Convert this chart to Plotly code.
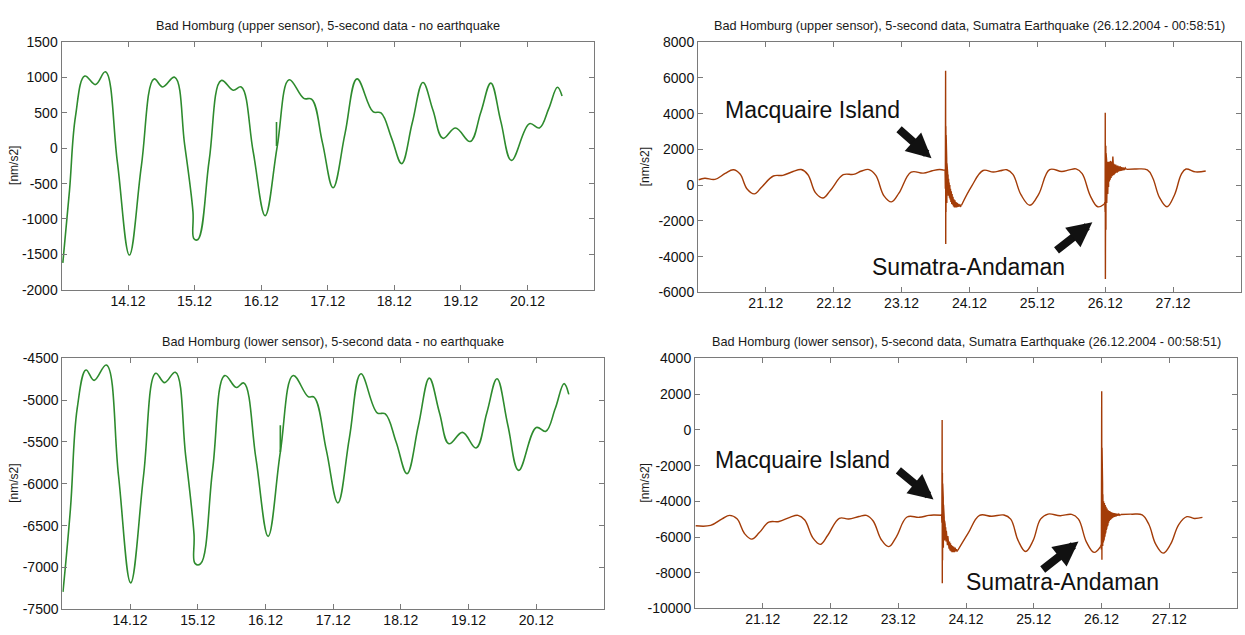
import plotly.graph_objects as go

GREEN = '#2e8b2e'
BROWN = '#a33c08'
FONT = 'Liberation Sans, Arial, sans-serif'

# ---------------- Top-left: upper sensor, no earthquake ----------------
tl_day = [13.02, 13.12, 13.21, 13.35, 13.51, 13.66, 13.84, 14.02, 14.20, 14.39, 14.52, 14.70,
          14.85, 14.975, 14.99, 15.05, 15.22, 15.40, 15.58, 15.70, 15.88, 16.06, 16.24, 16.42,
          16.64, 16.76, 16.92, 17.08, 17.26, 17.44, 17.68, 17.80, 17.96, 18.11, 18.27, 18.43,
          18.58, 18.73, 18.92, 19.14, 19.30, 19.45, 19.60, 19.76, 20.03, 20.18, 20.32, 20.45, 20.52]
tl_val = [-1620, -600, 450, 1020, 900, 1080, -200, -1510, -250, 980, 866, 1004,
          50, -900, -1280, -1290, -160, 958, 820, 866, -50, -953, 20, 967,
          705, 692, 80, -558, 210, 981, 517, 499, 140, -217, 360, 930,
          540, 140, 287, 95, 510, 921, 380, -172, 347, 287, 560, 862, 738]
tl_glitch_day = [16.23, 16.23]
tl_glitch_val = [30, 370]

# ---------------- Bottom-left: lower sensor, no earthquake ----------------
bl_day = [13.01, 13.12, 13.22, 13.35, 13.47, 13.65, 13.83, 14.01, 14.20, 14.38, 14.51, 14.67,
          14.82, 14.945, 14.96, 15.04, 15.22, 15.40, 15.57, 15.68, 15.86, 16.04, 16.22, 16.41,
          16.63, 16.72, 16.90, 17.07, 17.24, 17.41, 17.65, 17.77, 17.93, 18.09, 18.26, 18.42,
          18.57, 18.71, 18.91, 19.11, 19.27, 19.42, 19.58, 19.74, 20.00, 20.14, 20.28, 20.41, 20.48]
bl_val = [-7290, -6300, -5100, -4640, -4764, -4581, -5900, -7182, -5900, -4679, -4791, -4667,
          -5650, -6600, -6950, -6957, -5830, -4706, -4849, -4795, -5700, -6627, -5620, -4706,
          -4958, -4966, -5600, -6227, -5450, -4686, -5152, -5164, -5500, -5878, -5300, -4737,
          -5150, -5521, -5385, -5571, -5150, -4744, -5300, -5839, -5327, -5373, -5100, -4803, -4931]
bl_glitch_day = [16.22, 16.22]
bl_glitch_val = [-5620, -5300]

# ---------------- Top-right: upper sensor, Sumatra earthquake ----------------
tr_pre_day = [20.01, 20.10, 20.25, 20.40, 20.52, 20.62, 20.72, 20.83, 20.94, 21.11, 21.25, 21.40,
              21.52, 21.62, 21.73, 21.84, 21.95, 22.14, 22.29, 22.41, 22.52, 22.62, 22.74, 22.85,
              22.96, 23.14, 23.32, 23.45, 23.56, 23.636]
tr_pre_val = [300, 380, 320, 650, 860, 620, -200, -490, -100, 509, 547, 760,
              870, 580, -420, -723, -300, 580, 600, 790, 870, 540, -600, -940,
              -450, 725, 670, 800, 870, 820]
tr_q1_day = [23.636, 23.640, 23.644, 23.646, 23.648, 23.650, 23.652, 23.654, 23.656, 23.658,
             23.660, 23.662, 23.664, 23.666, 23.668, 23.670, 23.672, 23.675, 23.678, 23.681,
             23.684, 23.688, 23.692, 23.696, 23.700, 23.705, 23.710, 23.715, 23.720, 23.726,
             23.732, 23.738, 23.744, 23.750, 23.757, 23.764, 23.771, 23.778, 23.786, 23.794,
             23.802, 23.811, 23.820, 23.830, 23.840, 23.850, 23.860, 23.870, 23.880]
tr_q1_val = [820, 850, -200, 2500, 6400, -3300, 3300, -1500, 2800, -1200,
             2000, -800, 1500, -1000, 1200, -600, 900, -500, 700, -400,
             600, -600, 350, -500, 150, -700, 0, -800, -200, -950,
             -350, -1050, -500, -1100, -650, -1200, -800, -1250, -850, -1250,
             -950, -1250, -1000, -1220, -1050, -1200, -1080, -1180, -1140]
tr_mid_day = [23.88, 24.03, 24.20, 24.35, 24.45, 24.55, 24.64, 24.76, 24.89, 25.02, 25.18,
              25.36, 25.47, 25.57, 25.66, 25.78, 25.89, 25.988]
tr_mid_val = [-1140, -70, 818, 730, 800, 860, 600, -550, -1130, -500, 870,
              760, 850, 905, 640, -600, -1212, -1060]
tr_q2_day = [25.988, 25.994, 25.998, 26.000, 26.002, 26.004, 26.006, 26.008, 26.010, 26.012,
             26.014, 26.016, 26.018, 26.020, 26.022, 26.024, 26.026, 26.028, 26.031, 26.034,
             26.037, 26.040, 26.043, 26.046, 26.049, 26.052, 26.055, 26.058, 26.061, 26.064,
             26.067, 26.070, 26.073, 26.076, 26.079, 26.082, 26.086, 26.090, 26.094, 26.098,
             26.102, 26.107, 26.112, 26.117, 26.122, 26.128, 26.134, 26.140, 26.147, 26.154,
             26.161, 26.168, 26.176, 26.184, 26.193, 26.202, 26.212, 26.222, 26.233, 26.244,
             26.256, 26.268, 26.280, 26.295, 26.310]
tr_q2_val = [-1060, -950, -1500, 4050, -5250, 3000, -3500, 2200, -2500, 1800,
             -1800, 1500, -1400, 1400, -1000, 1300, -900, 1250, -700, 1300,
             -500, 1200, -300, 1250, -100, 1300, 50, 1200, 200, 1250,
             250, 1300, 300, 1350, 350, 1250, 400, 1300, 450, 1250,
             500, 1200, 1600, 1250, 550, 1200, 600, 1150, 650, 1150,
             700, 1100, 700, 1100, 750, 1050, 780, 1050, 800, 1000,
             820, 980, 850, 960, 880]
tr_post_day = [26.31, 26.45, 26.62, 26.70, 26.80, 26.91, 27.02, 27.12, 27.19, 27.33, 27.48]
tr_post_val = [880, 900, 850, 400, -700, -1212, -550, 600, 900, 740, 790]

# ---------------- Bottom-right: lower sensor, Sumatra earthquake ----------------
br_pre_day = [20.01, 20.23, 20.40, 20.51, 20.62, 20.73, 20.84, 20.95, 21.09, 21.24, 21.40,
              21.52, 21.62, 21.74, 21.85, 21.96, 22.13, 22.27, 22.42, 22.53, 22.63, 22.75,
              22.86, 22.97, 23.13, 23.31, 23.45, 23.52, 23.636]
br_pre_val = [-5370, -5350, -4980, -4786, -4980, -5800, -6117, -5750, -5170, -5133, -4900,
              -4786, -5050, -6050, -6409, -5900, -4950, -4987, -4850, -4786, -5100, -6150,
              -6537, -6000, -4878, -4896, -4790, -4768, -4780]
br_q1_day = tr_q1_day
br_q1_val = [-4780, -4750, -5200, -3000, 555, -8594, -2400, -7300, -3000, -7000,
             -3300, -6800, -3800, -6600, -4200, -6400, -4600, -6300, -4900, -6200,
             -5100, -6150, -5300, -6150, -5450, -6250, -5650, -6350, -5850, -6450,
             -5950, -6550, -6100, -6650, -6250, -6750, -6350, -6800, -6450, -6850,
             -6500, -6850, -6550, -6850, -6600, -6800, -6680, -6780, -6740]
br_mid_day = [23.88, 24.03, 24.20, 24.38, 24.56, 24.66, 24.77, 24.88, 24.99, 25.10, 25.21,
              25.39, 25.56, 25.66, 25.78, 25.89, 25.988]
br_mid_val = [-6740, -5800, -4786, -4840, -4768, -5000, -6200, -6810, -6200, -5000, -4714,
              -4805, -4732, -5000, -6300, -6860, -6520]
br_q2_day = [25.988, 25.994, 25.998, 26.000, 26.003, 26.006, 26.008, 26.010, 26.012, 26.014,
             26.016, 26.018, 26.020, 26.022, 26.025, 26.028, 26.031, 26.034, 26.037, 26.040,
             26.043, 26.046, 26.049, 26.052, 26.055, 26.058, 26.061, 26.064, 26.067, 26.070,
             26.074, 26.078, 26.082, 26.086, 26.090, 26.095, 26.100, 26.105, 26.110, 26.116,
             26.122, 26.128, 26.135, 26.142, 26.150, 26.158, 26.167, 26.176, 26.186, 26.196,
             26.207, 26.218, 26.230, 26.243, 26.256, 26.270, 26.285]
br_q2_val = [-6520, -6450, -6700, -5000, 2160, -7266, -1000, -6900, -2000, -6700,
             -3000, -6500, -3600, -6400, -3900, -6300, -4000, -6200, -4050, -6100,
             -4100, -6000, -4150, -5900, -4200, -5800, -4250, -5700, -4300, -5600,
             -4350, -5500, -4400, -5400, -4450, -5300, -4500, -5200, -4550, -5100,
             -4550, -5050, -4600, -5000, -4620, -4950, -4640, -4900, -4660, -4870,
             -4680, -4840, -4700, -4810, -4710, -4780, -4740]
br_post_day = [26.285, 26.45, 26.60, 26.70, 26.80, 26.91, 27.02, 27.14, 27.26, 27.37, 27.49]
br_post_val = [-4740, -4720, -4760, -5300, -6400, -6900, -6400, -5300, -4860, -4960, -4900]

# ---------------- Axis ticks / labels ----------------
left_xticks = [14, 15, 16, 17, 18, 19, 20]
left_xlabels = ['14.12', '15.12', '16.12', '17.12', '18.12', '19.12', '20.12']
right_xticks = [21, 22, 23, 24, 25, 26, 27]
right_xlabels = ['21.12', '22.12', '23.12', '24.12', '25.12', '26.12', '27.12']
tl_yticks = [-2000, -1500, -1000, -500, 0, 500, 1000, 1500]
tr_yticks = [-6000, -4000, -2000, 0, 2000, 4000, 6000, 8000]
bl_yticks = [-7500, -7000, -6500, -6000, -5500, -5000, -4500]
br_yticks = [-10000, -8000, -6000, -4000, -2000, 0, 2000, 4000]

titles = ['Bad Homburg (upper sensor), 5-second data - no earthquake',
          'Bad Homburg (upper sensor), 5-second data, Sumatra Earthquake (26.12.2004 - 00:58:51)',
          'Bad Homburg (lower sensor), 5-second data - no earthquake',
          'Bad Homburg (lower sensor), 5-second data, Sumatra Earthquake (26.12.2004 - 00:58:51)']

W, H = 1245, 635
# panel frames in pixels: (left, right, top, bottom)
frames = {
    '': (61.5, 594, 35, 289),
    '2': (698, 1241, 35, 291.7),
    '3': (62.3, 604, 359.3, 617),
    '4': (695, 1237, 359.5, 616),
}

fig = go.Figure()

def add_line(x, y, ax, color, shape='spline', width=1.6):
    fig.add_trace(go.Scatter(x=x, y=y, mode='lines', xaxis='x' + ax, yaxis='y' + ax,
                             line=dict(color=color, width=width, shape=shape, smoothing=1.1),
                             showlegend=False, hoverinfo='skip'))

add_line(tl_day, tl_val, '', GREEN)
add_line(tl_glitch_day, tl_glitch_val, '', GREEN, 'linear')
add_line(bl_day, bl_val, '3', GREEN)
add_line(bl_glitch_day, bl_glitch_val, '3', GREEN, 'linear')

add_line(tr_pre_day, tr_pre_val, '2', BROWN, width=1.4)
add_line(tr_q1_day, tr_q1_val, '2', BROWN, 'linear', 1.4)
add_line(tr_mid_day, tr_mid_val, '2', BROWN, width=1.4)
add_line(tr_q2_day, tr_q2_val, '2', BROWN, 'linear', 1.4)
add_line(tr_post_day, tr_post_val, '2', BROWN, width=1.4)

add_line(br_pre_day, br_pre_val, '4', BROWN, width=1.4)
add_line(br_q1_day, br_q1_val, '4', BROWN, 'linear', 1.4)
add_line(br_mid_day, br_mid_val, '4', BROWN, width=1.4)
add_line(br_q2_day, br_q2_val, '4', BROWN, 'linear', 1.4)
add_line(br_post_day, br_post_val, '4', BROWN, width=1.4)

axis_common = dict(showline=True, linecolor='#7a7a7a', linewidth=1, mirror='ticks',
                   ticks='inside', ticklen=5, tickcolor='#7a7a7a', showgrid=False,
                   zeroline=False, tickfont=dict(family=FONT, size=14, color='#111'))

yspecs = {'': ([-2000, 1500], tl_yticks), '2': ([-6000, 8000], tr_yticks),
          '3': ([-7500, -4500], bl_yticks), '4': ([-10000, 4000], br_yticks)}
xspecs = {'': ([13, 21], left_xticks, left_xlabels), '2': ([20, 28], right_xticks, right_xlabels),
          '3': ([13, 21], left_xticks, left_xlabels), '4': ([20, 28], right_xticks, right_xlabels)}

layout = dict(width=W, height=H, margin=dict(l=0, r=0, t=0, b=0),
              paper_bgcolor='white', plot_bgcolor='white')
annotations = []
for i, (k, (l, r, t, b)) in enumerate(frames.items()):
    xd = [l / W, r / W]
    yd = [1 - b / H, 1 - t / H]
    xr, xt, xl = xspecs[k]
    yr, yt = yspecs[k]
    layout['xaxis' + k] = dict(axis_common, domain=xd, range=xr, tickvals=xt, ticktext=xl,
                               anchor='y' + k, ticklabelstandoff=-2)
    layout['yaxis' + k] = dict(axis_common, domain=yd, range=yr, tickvals=yt,
                               ticktext=[str(v) for v in yt], anchor='x' + k)
    annotations.append(dict(text=titles[i], xref='paper', yref='paper', x=(l + r) / 2 / W,
                            y=1 - (t - 17) / H, xanchor='center', yanchor='middle',
                            showarrow=False, font=dict(family=FONT, size=12.7, color='#1a1a1a')))
    lab_x = 14 if l < 300 else 645
    annotations.append(dict(text='[nm/s2]', xref='paper', yref='paper', x=lab_x / W,
                            y=1 - (t + b) / 2 / H, xanchor='center', yanchor='middle',
                            textangle=-90, showarrow=False,
                            font=dict(family=FONT, size=12, color='#1a1a1a')))

# event labels and arrows (day, value)
labels = [('2', 21.68, 4175, 'Macquaire Island'), ('2', 23.99, -4585, 'Sumatra-Andaman'),
          ('4', 21.58, -1704, 'Macquaire Island'), ('4', 25.42, -8540, 'Sumatra-Andaman')]
arrows = [('2', 23.44, 1509, 22.94, 3196), ('2', 25.81, -2082, 25.26, -3715),
          ('4', 23.52, -3892, 22.98, -2197), ('4', 25.66, -6243, 25.11, -7884)]
for k, x, y, txt in labels:
    annotations.append(dict(text=txt, x=x, y=y, xref='x' + k, yref='y' + k, showarrow=False,
                            xanchor='center', yanchor='middle',
                            font=dict(family=FONT, size=23, color='#111')))
for k, x, y, ax, ay in arrows:
    annotations.append(dict(text='', x=x, y=y, ax=ax, ay=ay, xref='x' + k, yref='y' + k,
                            axref='x' + k, ayref='y' + k, showarrow=True, arrowhead=2,
                            arrowwidth=8, arrowsize=0.62, arrowcolor='#111'))

layout['annotations'] = annotations
fig.update_layout(**layout)
fig.write_html('out.html', config={'displayModeBar': False},
               post_script="document.body.style.margin='0';document.body.style.overflow='hidden';")
